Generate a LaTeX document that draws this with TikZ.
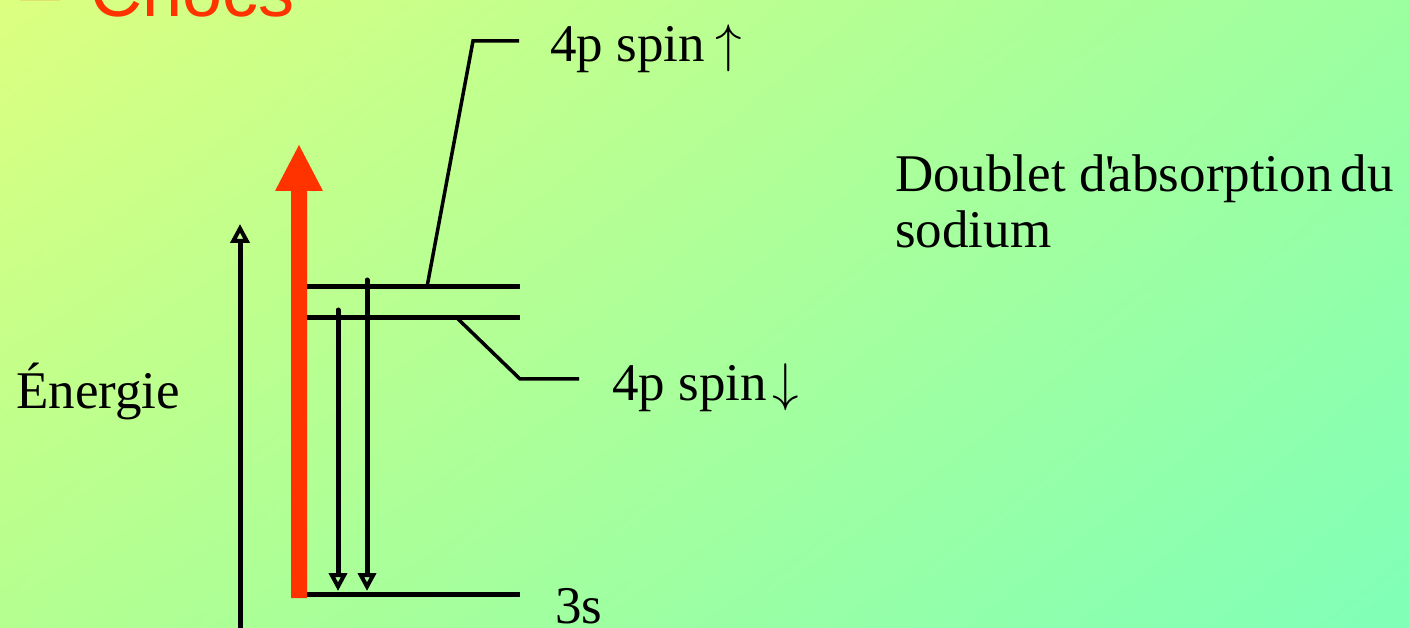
\RequirePackage{fix-cm}
\documentclass[tikz,border=0pt]{standalone}
\usepackage{fontspec}
\setmainfont{Liberation Serif}
\newfontfamily\arialfont{Liberation Sans}
\newfontfamily\straightq[Ligatures=TeXOff]{Liberation Serif}
\usetikzlibrary{arrows.meta,shadings}
\definecolor{redarrow}{HTML}{FF3300}
\definecolor{bgTL}{HTML}{DCFF80}
\definecolor{bgTR}{HTML}{9CFFA0}
\definecolor{bgBL}{HTML}{B4FF90}
\definecolor{bgBR}{HTML}{80FFB8}
\tikzset{
  level/.style={line width=5pt},
  leader/.style={line width=3.5pt},
  trans/.style={line width=5pt,-{Triangle[open,width=18pt,length=18pt,line width=4pt]}},
  lbl/.style={inner sep=0pt,anchor=base west,font=\fontsize{53}{56}\selectfont},
}
\begin{document}
\begin{tikzpicture}[x=1pt,y=-1pt]
\useasboundingbox (0,0) rectangle (1409,628);
\shade[upper left=bgTL,upper right=bgTR,lower left=bgBL,lower right=bgBR] (0,0) rectangle (1409,628);
\begin{scope}
\clip (0,0) rectangle (1409,628);
\node[inner sep=0pt,anchor=base west,text=redarrow,font=\arialfont\fontsize{72}{80}\selectfont] (title) at (20,17) {–\hspace{0.42em}Chocs};
% energy axis
\coordinate (axbot) at (240,640);
\coordinate (axtop) at (240,224);
\draw[line width=5pt,-{Triangle[open,width=19pt,length=19pt,line width=4pt]}] (axbot) -- (axtop);
% red arrow
\fill[redarrow] (291,598) -- (307,598) -- (307,191) -- (323,191) -- (299,145) -- (275,191) -- (291,191) -- cycle;
\end{scope}
% levels
\coordinate (up0) at (307,287); \coordinate (up1) at (520,287);
\coordinate (dn0) at (307,318); \coordinate (dn1) at (520,318);
\coordinate (s0) at (307,594); \coordinate (s1) at (520,594);
\draw[level] (up0) -- (up1);
\draw[level] (dn0) -- (dn1);
\draw[level] (s0) -- (s1);
% transitions
\coordinate (t1a) at (338,310); \coordinate (t1b) at (338,591);
\coordinate (t2a) at (367,280); \coordinate (t2b) at (367,591);
\draw[trans,line cap=round] (t1a) -- (t1b);
\draw[trans,line cap=round] (t2a) -- (t2b);
% leaders
\coordinate (la) at (427,287); \coordinate (lb) at (473,41); \coordinate (lc) at (519,41);
\draw[leader] (la) -- (lb) -- (lc);
\coordinate (ma) at (457,318); \coordinate (mb) at (520,379); \coordinate (mc) at (579,379);
\draw[leader] (ma) -- (mb) -- (mc);
% labels
\node[lbl] (lup) at (550,62) {4p spin\hspace{0.2em}$\uparrow$};
\node[lbl] (ldn) at (612,400) {4p spin\hspace{0.1em}$\downarrow$};
\node[lbl] (l3s) at (555,623) {3s};
\node[lbl] (len) at (16,408) {Énergie};
\node[lbl] (ldoub) at (895,192) {Doublet d{\straightq '}\kern-0.12em absorption\hspace{0.15em}du};
\node[lbl] (lsod) at (895,248) {sodium};
\end{tikzpicture}
\end{document}
